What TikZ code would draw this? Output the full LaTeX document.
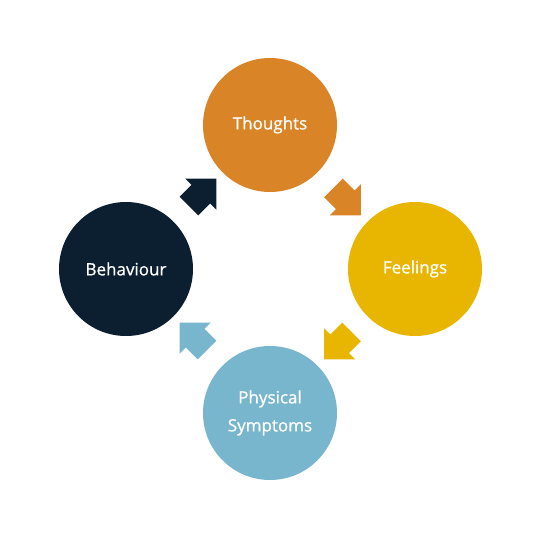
\documentclass[tikz,border=0pt]{standalone}
\usepackage{fontspec}
\setmainfont{Open Sans}
\newfontfamily\stagefont{Open Sans}[FakeBold=0.8]
\usetikzlibrary{shapes.arrows,calc}
\definecolor{thoughtorange}{RGB}{218,132,40}
\definecolor{feelyellow}{RGB}{232,181,0}
\definecolor{bodyblue}{RGB}{120,182,205}
\definecolor{actnavy}{RGB}{11,31,48}
\tikzset
{
  stage/.style={circle,minimum size=134pt,inner sep=0pt,text=white,align=center,
    font=\stagefont\fontsize{17}{28}\selectfont},
  flow/.style={single arrow,draw=none,minimum height=39pt,inner xsep=0pt,inner ysep=13pt,
    single arrow head extend=9pt,single arrow tip angle=90}
}
\begin{document}
\begin{tikzpicture}[x=1pt,y=-1pt]
  \useasboundingbox (0,0) rectangle (540,540);
  % the four stages
  \node[stage,fill=thoughtorange] (thoughts)  at (270,125) {Thoughts};
  \node[stage,fill=feelyellow]    (feelings)  at (415,269) {Feelings};
  \node[stage,fill=bodyblue]      (physical)  at (270,413) {Physical\\Symptoms};
  \node[stage,fill=actnavy]       (behaviour) at (126,269) {Behaviour};
  % block arrows between them
  \node[flow,fill=thoughtorange,rotate=-45]  (tf) at ($(thoughts)!0.5!(feelings)$) {};
  \node[flow,fill=feelyellow,rotate=-135]    (fp) at ($(feelings)!0.5!(physical)$) {};
  \node[flow,fill=bodyblue,rotate=135]       (pb) at ($(physical)!0.5!(behaviour)$) {};
  \node[flow,fill=actnavy,rotate=45]         (bt) at ($(behaviour)!0.5!(thoughts)$) {};
\end{tikzpicture}
\end{document}
